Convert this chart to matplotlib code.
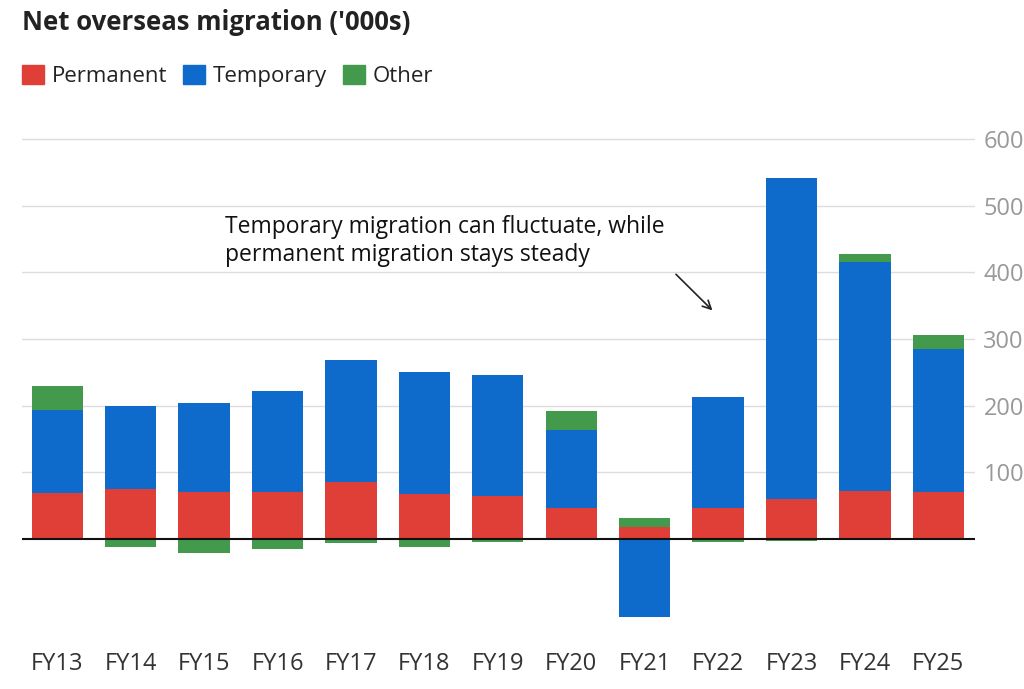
import matplotlib.pyplot as plt
import numpy as np

years = ["FY13", "FY14", "FY15", "FY16", "FY17", "FY18", "FY19",
         "FY20", "FY21", "FY22", "FY23", "FY24", "FY25"]
permanent = [69, 75, 70, 70, 86, 68, 64, 46, 18, 47, 60, 72, 70]
temporary = [125, 125, 134, 152, 182, 182, 182, 118, -117, 166, 481, 344, 215]
other = [36, -12, -21, -15, -6, -12, -4, 28, 14, -5, -3, 11, 21]

series = [("Permanent", permanent, "#E03F38"),
          ("Temporary", temporary, "#0E6BCB"),
          ("Other", other, "#43994C")]

plt.rcParams['font.family'] = ['Open Sans', 'DejaVu Sans']

fig = plt.figure(figsize=(10.24, 6.89), dpi=100)
ax = fig.add_axes([0.0215, 0.0919, 0.9307, 0.716])

x = np.arange(len(years))
pos_base = np.zeros(len(years))
neg_base = np.zeros(len(years))
for name, vals, col in series:
    v = np.array(vals, dtype=float)
    bottoms = np.where(v >= 0, pos_base, neg_base)
    ax.bar(x, v, 0.7, bottom=bottoms, color=col, label=name, zorder=3)
    pos_base = pos_base + np.where(v >= 0, v, 0)
    neg_base = neg_base + np.where(v < 0, v, 0)

ax.set_xlim(-0.48, 12.5)
ax.set_ylim(-130, 610)
ax.set_yticks([100, 200, 300, 400, 500, 600])
ax.yaxis.tick_right()
ax.tick_params(axis='y', length=0, pad=6, labelsize=17, labelcolor='#999999')
ax.set_xticks(x)
ax.set_xticklabels(years)
ax.tick_params(axis='x', length=0, pad=19, labelsize=17, labelcolor='#333333')
ax.grid(True, axis='y', color='#dddddd', linewidth=1, zorder=0)
ax.axhline(0, color='#111111', linewidth=1.5, zorder=4)
for s in ax.spines.values():
    s.set_visible(False)

fig.text(0.0215, 0.968, "Net overseas migration ('000s)", fontsize=18.5,
         fontweight='bold', color='#222222', va='center', ha='left')

handles = [plt.Rectangle((0, 0), 1, 1, color=c) for _, _, c in series]
fig.legend(handles, [n for n, _, _ in series], loc='center left',
           bbox_to_anchor=(0.002, 0.89), ncol=3, frameon=False, fontsize=16,
           handlelength=1.0, handleheight=1.0, handletextpad=0.35,
           columnspacing=0.7, labelcolor='#222222')

ax.annotate("", xy=(8.95, 340), xytext=(8.4, 400),
            arrowprops=dict(arrowstyle='->', color='#222222', lw=1.2,
                            mutation_scale=15), zorder=5)
ax.text(2.28, 447, "Temporary migration can fluctuate, while\npermanent migration stays steady",
        fontsize=16.5, color='#111111', va='center', ha='left', linespacing=1.25)

fig.savefig("out.png", dpi=100)
